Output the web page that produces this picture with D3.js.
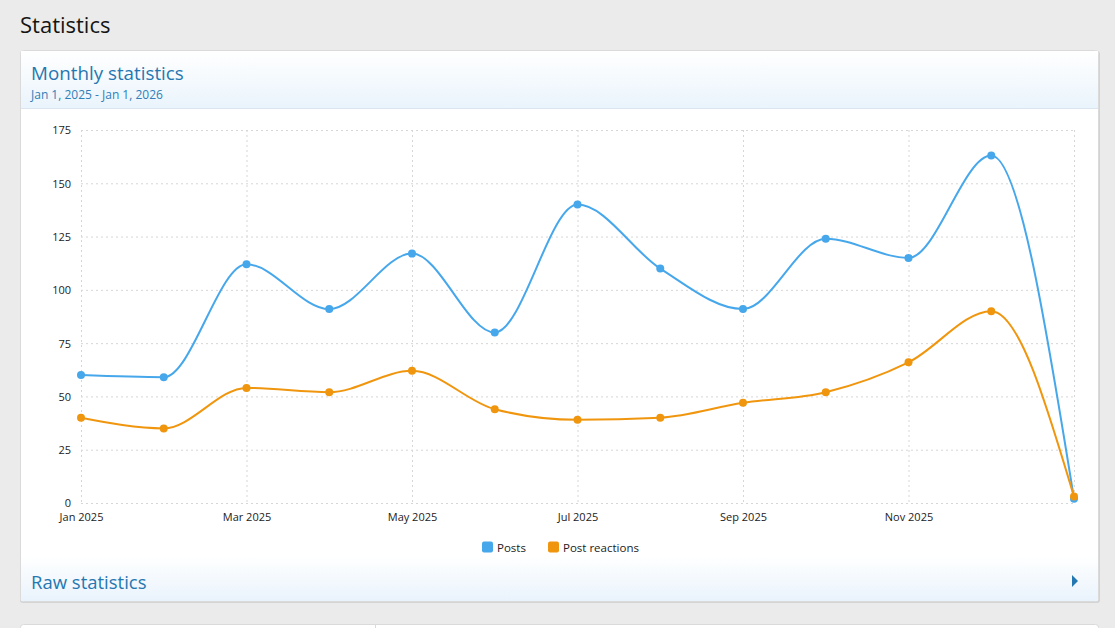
<!DOCTYPE html>
<html><head><meta charset="utf-8">
<script src="https://cdn.jsdelivr.net/npm/d3@7"></script>
<style>
html,body{margin:0;padding:0;background:#ebebeb;}
svg{display:block;font-family:"Segoe UI","Open Sans","Noto Sans",sans-serif;}
</style></head><body>
<svg id="c" width="1115" height="628"></svg>
<script>
const months = ["Jan 2025","Feb 2025","Mar 2025","Apr 2025","May 2025","Jun 2025","Jul 2025","Aug 2025","Sep 2025","Oct 2025","Nov 2025","Dec 2025","Jan 2026"];
const xTickLabels = ["Jan 2025","Mar 2025","May 2025","Jul 2025","Sep 2025","Nov 2025"];
const posts = [60,59,112,91,117,80,140,110,91,124,115,163,2];
const reactions = [40,35,54,52,62,44,39,40,47,52,66,90,3];
const yTicks = [0,25,50,75,100,125,150,175];
const seriesNames = ["Posts","Post reactions"];
const colors = ["#47a7eb","#f0960e"];
const FONT = '"Segoe UI","Open Sans","Noto Sans",sans-serif';

const svg = d3.select("#c");
const defs = svg.append("defs");
const g1 = defs.append("linearGradient").attr("id","hg").attr("x1",0).attr("y1",0).attr("x2",0).attr("y2",1);
g1.append("stop").attr("offset","0%").attr("stop-color","#ffffff");
g1.append("stop").attr("offset","100%").attr("stop-color","#eaf4fc");
const g2 = defs.append("linearGradient").attr("id","fg").attr("x1",0).attr("y1",0).attr("x2",0).attr("y2",1);
g2.append("stop").attr("offset","0%").attr("stop-color","#ffffff");
g2.append("stop").attr("offset","100%").attr("stop-color","#e9f3fc");

// page title
svg.append("text").attr("x",20).attr("y",33).attr("font-size",22).attr("fill","#141414").text("Statistics");

// card shadow + card
svg.append("rect").attr("x",20).attr("y",51).attr("width",1080).attr("height",552).attr("rx",3).attr("fill","#d3d3d3");
svg.append("rect").attr("x",20.5).attr("y",50.5).attr("width",1078).attr("height",551).attr("rx",3).attr("fill","#fff").attr("stroke","#dadada");
// header
svg.append("rect").attr("x",21).attr("y",51).attr("width",1077).attr("height",57).attr("fill","url(#hg)");
svg.append("line").attr("x1",21).attr("x2",1098).attr("y1",108.5).attr("y2",108.5).attr("stroke","#dbe5ef");
svg.append("text").attr("x",31).attr("y",80).attr("font-size",18.8).attr("fill","#2577b1").text("Monthly statistics");
svg.append("text").attr("x",31).attr("y",99).attr("font-size",12).attr("fill","#2f7fb8").text("Jan 1, 2025 - Jan 1, 2026");
// footer
svg.append("rect").attr("x",21).attr("y",556).attr("width",1077).attr("height",45).attr("fill","url(#fg)");
svg.append("text").attr("x",31).attr("y",589).attr("font-size",18.5).attr("fill","#2577b1").text("Raw statistics");
svg.append("path").attr("d","M1072,575 L1078,581 L1072,587 Z").attr("fill","#2577b1");

// lower card
svg.append("rect").attr("x",20.5).attr("y",624.5).attr("width",1078).attr("height",20).attr("rx",3).attr("fill","#fff").attr("stroke","#dadada");
svg.append("line").attr("x1",375.5).attr("x2",375.5).attr("y1",625).attr("y2",628).attr("stroke","#dadada");

// chart
const x = d3.scalePoint().domain(months).range([81,1074]);
const y = d3.scaleLinear().domain([0,175]).range([503,130]);
const chart = svg.append("g");

// grid
chart.selectAll(".hg").data(yTicks).join("line")
  .attr("x1",81).attr("x2",1074).attr("y1",d=>y(d)+0.5).attr("y2",d=>y(d)+0.5)
  .attr("stroke","#d6d6d6").attr("stroke-dasharray","2,3");
const vGrid = xTickLabels.concat([months[months.length-1]]);
chart.selectAll(".vg").data(vGrid).join("line")
  .attr("x1",d=>x(d)+0.5).attr("x2",d=>x(d)+0.5).attr("y1",130).attr("y2",503)
  .attr("stroke","#d6d6d6").attr("stroke-dasharray","2,3");

// axes via d3
const yAxis = d3.axisLeft(y).tickValues(yTicks).tickSize(0).tickPadding(0);
const ya = chart.append("g").attr("transform","translate(71,0)").call(yAxis).attr("font-family",FONT);
ya.select(".domain").remove();
ya.selectAll("text").attr("font-size",11).attr("fill","#222").attr("dy","0.35em");

const xAxis = d3.axisBottom(x).tickValues(xTickLabels).tickSize(0).tickPadding(0);
const xa = chart.append("g").attr("transform","translate(0,513)").call(xAxis).attr("font-family",FONT);
xa.select(".domain").remove();
xa.selectAll("text").attr("font-size",11).attr("fill","#222").attr("dy","0.71em");

// lines
const series = [posts, reactions];
const line = d3.line().x((d,i)=>x(months[i])).y(d=>y(d)).curve(d3.curveMonotoneX);
series.forEach((s,k)=>{
  chart.append("path").attr("d",line(s)).attr("fill","none").attr("stroke",colors[k]).attr("stroke-width",2);
});
series.forEach((s,k)=>{
  chart.selectAll(".p"+k).data(s).join("circle")
    .attr("cx",(d,i)=>x(months[i])).attr("cy",d=>y(d)).attr("r",4).attr("fill",colors[k]);
});

// legend
const leg = [{x:482},{x:548}];
seriesNames.forEach((n,k)=>{
  svg.append("rect").attr("x",leg[k].x).attr("y",541.5).attr("width",11).attr("height",11).attr("rx",2).attr("fill",colors[k]);
  svg.append("text").attr("x",leg[k].x+15).attr("y",551.5).attr("font-size",11.5).attr("fill","#222").text(n);
});
</script>
</body></html>
